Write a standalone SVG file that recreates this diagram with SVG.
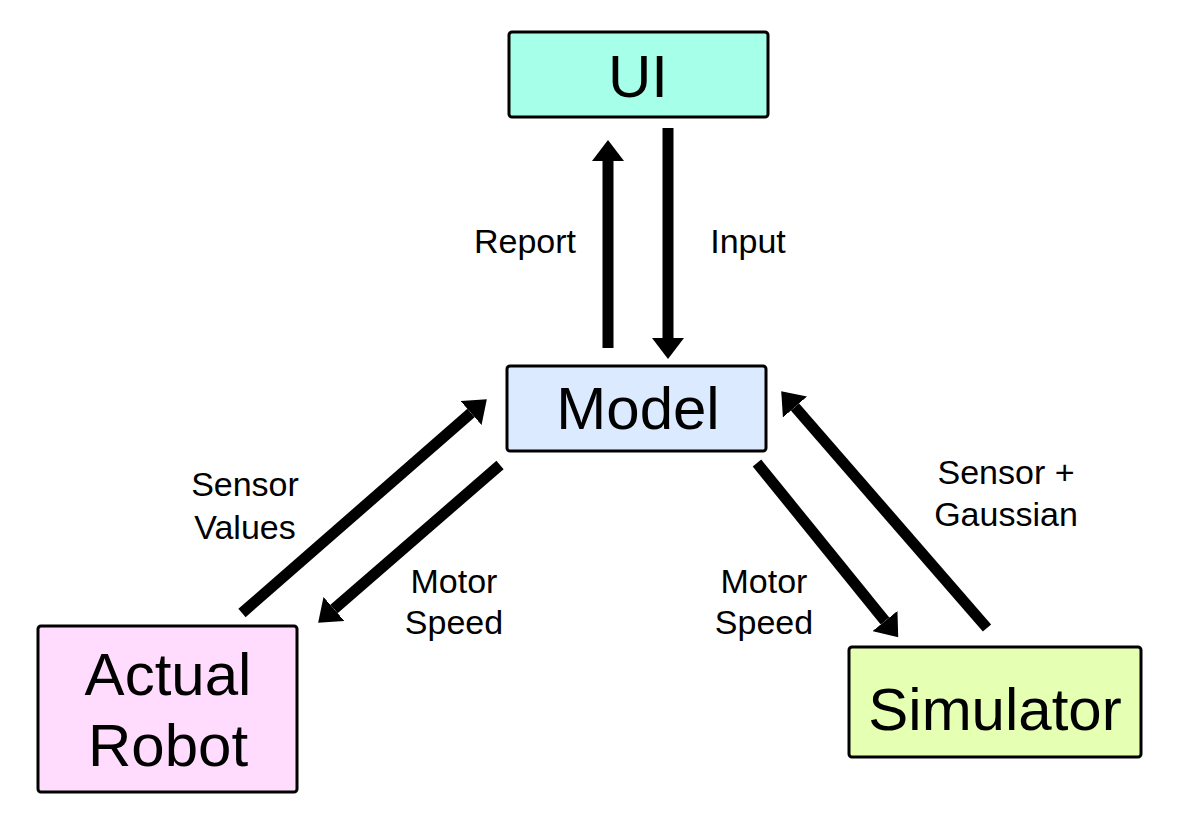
<svg xmlns="http://www.w3.org/2000/svg" width="1188" height="822" viewBox="0 0 1188 822">
<style>
.box{stroke:#000;stroke-width:3}
.big{font-family:"Liberation Sans",Arial,sans-serif;font-size:60px;text-anchor:middle;fill:#000}
.lbl{font-family:"Liberation Sans",Arial,sans-serif;font-size:34px;text-anchor:middle;fill:#000}
.arr{stroke:#000;stroke-width:11;fill:none;marker-end:url(#ah)}
</style>
<defs>
<marker id="ah" markerUnits="userSpaceOnUse" markerWidth="22" markerHeight="32" refX="0" refY="16" orient="auto" viewBox="0 0 22 32">
<path d="M0,0 L21,16 L0,32 z" fill="#000"/>
</marker>
</defs>
<rect width="1188" height="822" fill="#fff"/>
<g id="connectors">
<line class="arr" x1="608" y1="348" x2="608" y2="161"/>
<line class="arr" x1="668" y1="128" x2="668" y2="338"/>
<line class="arr" x1="242" y1="613" x2="471" y2="413"/>
<line class="arr" x1="500" y1="465" x2="334" y2="609"/>
<line class="arr" x1="757" y1="463" x2="885" y2="621"/>
<line class="arr" x1="987" y1="628" x2="795" y2="407"/>
</g>
<g id="labels">
<text class="lbl" x="525" y="253">Report</text>
<text class="lbl" x="748" y="253">Input</text>
<text class="lbl" x="245" y="496">Sensor</text>
<text class="lbl" x="245" y="539">Values</text>
<text class="lbl" x="454" y="593">Motor</text>
<text class="lbl" x="454" y="634">Speed</text>
<text class="lbl" x="764" y="593">Motor</text>
<text class="lbl" x="764" y="634">Speed</text>
<text class="lbl" x="1006" y="484">Sensor +</text>
<text class="lbl" x="1006" y="526">Gaussian</text>
</g>
<g id="ui">
<rect class="box" x="509" y="32" width="259" height="85" rx="3" fill="#a6ffe8"/>
<text class="big" x="638" y="97">UI</text>
</g>
<g id="model">
<rect class="box" x="507" y="366" width="259" height="85" rx="3" fill="#dbeaff"/>
<text class="big" x="638" y="429">Model</text>
</g>
<g id="robot">
<rect class="box" x="38" y="626" width="259" height="166" rx="3" fill="#ffdcfd"/>
<text class="big" x="168" y="695">Actual</text>
<text class="big" x="168" y="766">Robot</text>
</g>
<g id="simulator">
<rect class="box" x="849" y="647" width="292" height="110" rx="3" fill="#e5ffb3"/>
<text class="big" x="995" y="730">Simulator</text>
</g>
</svg>
